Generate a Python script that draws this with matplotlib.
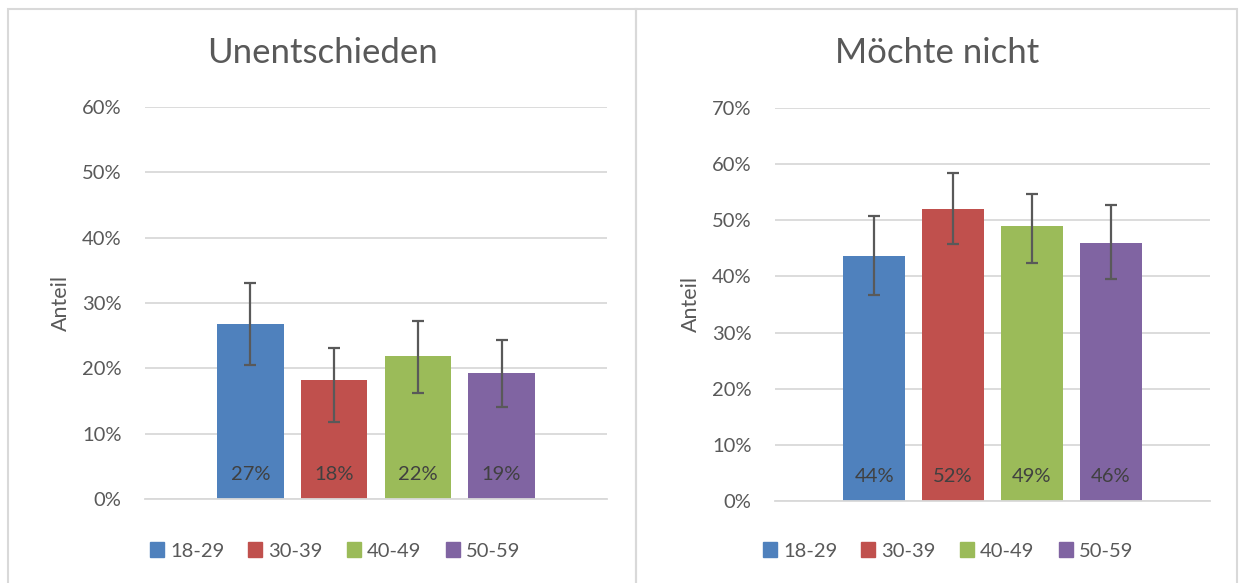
import matplotlib.pyplot as plt
from matplotlib.patches import Rectangle, Patch
from matplotlib.ticker import PercentFormatter

# =========================
# Data
# =========================
groups = ["18-29", "30-39", "40-49", "50-59"]
colors = ["#4f81bd", "#c0504d", "#9bbb59", "#8064a2"]

# Unentschieden
undecided = [26.8, 18.2, 21.9, 19.3]
undecided_lo = [20.5, 11.8, 16.3, 14.1]
undecided_hi = [33.0, 23.1, 27.3, 24.3]
undecided_labels = ["27%", "18%", "22%", "19%"]

# Möchte nicht
refuse = [43.7, 52.0, 49.0, 46.0]
refuse_lo = [36.7, 45.8, 42.4, 39.6]
refuse_hi = [50.7, 58.5, 54.6, 52.7]
refuse_labels = ["44%", "52%", "49%", "46%"]

# =========================
# Style
# =========================
plt.rcParams['font.family'] = ['Lato', 'DejaVu Sans']
text_col = '#595959'
grid_col = '#d9d9d9'
W, H = 1239, 583

fig = plt.figure(figsize=(W / 100, H / 100), dpi=100)

# panel borders (chart areas)
for x0, x1 in [(8, 636), (636, 1237)]:
    fig.add_artist(Rectangle((x0 / W, -0.01), (x1 - x0) / W, 1 - 9 / H + 0.01,
                             transform=fig.transFigure, fill=False,
                             edgecolor=grid_col, linewidth=1.5))


def draw_panel(rect, values, lo, hi, labels, ymax, title, title_x, legend_x, label_x):
    ax = fig.add_axes(rect)
    x = list(range(len(values)))
    err = [[v - l for v, l in zip(values, lo)], [h - v for v, h in zip(values, hi)]]
    ax.bar(x, values, width=0.79, color=colors, zorder=2)
    ax.errorbar(x, values, yerr=err, fmt='none', ecolor='#595959',
                elinewidth=1.6, capsize=4.3, capthick=1.6, zorder=3)
    for xi, lab in zip(x, labels):
        ax.text(xi, ymax * 0.0625, lab, ha='center', va='center',
                fontsize=14.5, color='#404040', zorder=4)
    ax.set_xlim(-1.26, 4.26)
    ax.set_ylim(0, ymax)
    ax.set_yticks(range(0, ymax + 1, 10))
    ax.yaxis.set_major_formatter(PercentFormatter(decimals=0))
    ax.grid(axis='y', color=grid_col, linewidth=1.3, zorder=0)
    for s in ['top', 'right', 'left']:
        ax.spines[s].set_visible(False)
    ax.spines['bottom'].set_color(grid_col)
    ax.spines['bottom'].set_linewidth(1.3)
    ax.set_xticks([])
    ax.tick_params(axis='y', length=0, pad=17, labelsize=14.5, labelcolor=text_col)
    ax.set_ylabel("Anteil", fontsize=15.5, color=text_col)
    ax.yaxis.set_label_coords(label_x, 0.5)
    fig.text(title_x, 1 - 53 / H, title, ha='center', va='center',
             fontsize=25, color=text_col)
    handles = [Patch(color=c, label=g) for c, g in zip(colors, groups)]
    fig.legend(handles=handles, loc='center', bbox_to_anchor=(legend_x, 1 - 551 / H),
               ncol=4, frameon=False, fontsize=14.5, labelcolor=text_col,
               handlelength=0.7, handleheight=0.7, handletextpad=0.3,
               columnspacing=1.2)
    return ax


draw_panel([145 / W, 1 - 499 / H, 462 / W, 392 / H],
           undecided, undecided_lo, undecided_hi, undecided_labels, 60,
           "Unentschieden", 322 / W, 335 / W, -0.16)
draw_panel([775 / W, 1 - 501 / H, 435 / W, 393 / H],
           refuse, refuse_lo, refuse_hi, refuse_labels, 70,
           "Möchte nicht", 937 / W, 948 / W, -0.17)

plt.savefig("out.png", dpi=100)
